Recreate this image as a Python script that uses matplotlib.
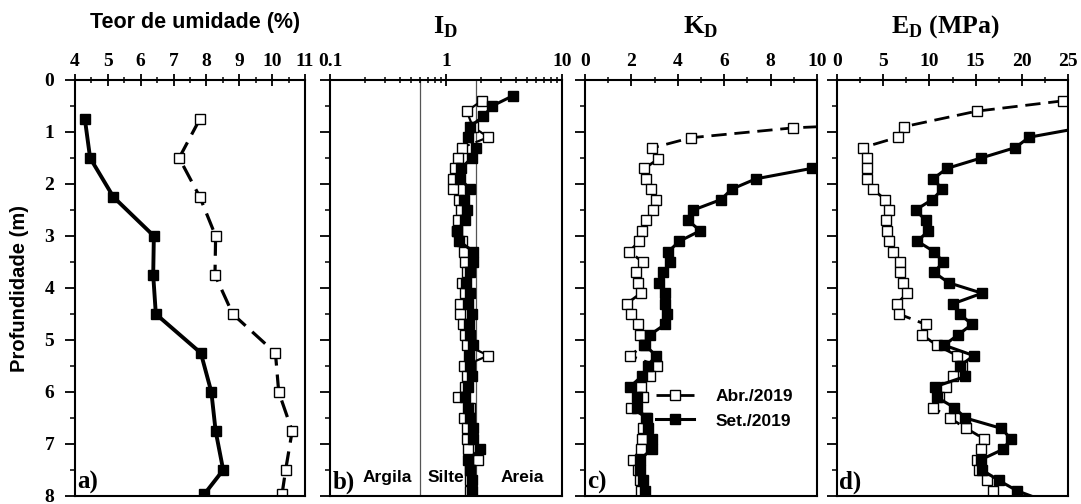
import matplotlib
matplotlib.use('Agg')
import matplotlib.pyplot as plt
from matplotlib.ticker import MultipleLocator, LogLocator, NullFormatter

plt.rcParams['font.family'] = 'Liberation Serif'
plt.rcParams['font.weight'] = 'bold'
plt.rcParams['mathtext.fontset'] = 'custom'
plt.rcParams['mathtext.bf'] = 'Liberation Serif:bold'
plt.rcParams['mathtext.rm'] = 'Liberation Serif:bold'

SANS = 'Liberation Sans'

# ── a) Teor de umidade (%) ───────────────────────────────────────────────────
w_depth = [0.75, 1.5, 2.25, 3.0, 3.75, 4.5, 5.25, 6.0, 6.75, 7.5, 7.97]
w_abr = [7.80, 7.17, 7.80, 8.28, 8.26, 8.80, 10.10, 10.20, 10.61, 10.41, 10.30]
w_set = [4.30, 4.46, 5.17, 6.40, 6.38, 6.46, 7.83, 8.15, 8.28, 8.51, 7.93]

# ── b) ID ────────────────────────────────────────────────────────────────────
id_depth_abr = [0.4, 0.6, 0.9, 1.1, 1.3, 1.5, 1.7, 1.9, 2.1, 2.3, 2.5, 2.7, 2.9,
                3.1, 3.3, 3.5, 3.7, 3.9, 4.1, 4.3, 4.5, 4.7, 4.9, 5.1, 5.3, 5.5,
                5.7, 5.9, 6.1, 6.3, 6.5, 6.7, 6.9, 7.1, 7.3, 7.5, 7.7, 7.9]
id_abr = [2.03, 1.51, 1.70, 2.32, 1.37, 1.28, 1.20, 1.16, 1.16, 1.30, 1.35, 1.28,
          1.24, 1.38, 1.42, 1.46, 1.51, 1.38, 1.45, 1.32, 1.32, 1.40, 1.46, 1.51,
          2.32, 1.42, 1.51, 1.45, 1.28, 1.62, 1.42, 1.51, 1.51, 1.55, 1.90, 1.60,
          1.62, 1.62]
id_depth_set = [0.3, 0.5, 0.7, 0.9, 1.1, 1.3, 1.5, 1.7, 1.9, 2.1, 2.3, 2.5, 2.7,
                2.9, 3.1, 3.3, 3.5, 3.7, 3.9, 4.1, 4.3, 4.5, 4.7, 4.9, 5.1, 5.3,
                5.5, 5.7, 5.9, 6.1, 6.3, 6.5, 6.7, 6.9, 7.1, 7.3, 7.5, 7.7, 7.9]
id_set = [3.80, 2.50, 2.10, 1.60, 1.55, 1.80, 1.66, 1.35, 1.32, 1.62, 1.42, 1.51,
          1.45, 1.25, 1.30, 1.72, 1.70, 1.60, 1.48, 1.62, 1.55, 1.68, 1.58, 1.62,
          1.70, 1.58, 1.62, 1.66, 1.55, 1.45, 1.55, 1.62, 1.70, 1.72, 1.96, 1.56,
          1.62, 1.66, 1.66]

# ── c) KD ────────────────────────────────────────────────────────────────────
kd_depth_abr = [0.72, 0.92, 1.11, 1.31, 1.52, 1.7, 1.9, 2.1, 2.3, 2.5, 2.7, 2.9,
                3.1, 3.3, 3.5, 3.7, 3.9, 4.1, 4.3, 4.5, 4.7, 4.9, 5.1, 5.3, 5.5,
                5.7, 5.9, 6.1, 6.3, 6.5, 6.7, 6.9, 7.1, 7.3, 7.5, 7.7, 7.9]
kd_abr = [19.0, 8.98, 4.57, 2.87, 3.16, 2.56, 2.63, 2.84, 3.06, 2.92, 2.63, 2.44,
          2.34, 1.91, 2.49, 2.20, 2.27, 2.41, 1.80, 1.98, 2.30, 2.37, 2.54, 1.94,
          3.12, 2.80, 2.41, 2.49, 1.98, 2.66, 2.50, 2.44, 2.41, 2.06, 2.30, 2.35,
          2.40]
kd_depth_set = [1.7, 1.9, 2.1, 2.3, 2.5, 2.7, 2.9, 3.1, 3.3, 3.5, 3.7, 3.9, 4.1,
                4.3, 4.5, 4.7, 4.9, 5.1, 5.3, 5.5, 5.7, 5.9, 6.1, 6.3, 6.5, 6.7,
                6.9, 7.1, 7.3, 7.5, 7.7, 7.9]
kd_set = [9.77, 7.37, 6.32, 5.86, 4.67, 4.45, 4.96, 4.07, 3.59, 3.66, 3.38, 3.19,
          3.45, 3.45, 3.52, 3.45, 2.80, 2.59, 3.06, 2.70, 2.44, 1.94, 2.23, 2.23,
          2.63, 2.73, 2.87, 2.87, 2.37, 2.37, 2.49, 2.59]

# ── d) ED (MPa) ──────────────────────────────────────────────────────────────
ed_depth_abr = [0.4, 0.6, 0.9, 1.1, 1.3, 1.5, 1.7, 1.9, 2.1, 2.3, 2.5, 2.7, 2.9,
                3.1, 3.3, 3.5, 3.7, 3.9, 4.1, 4.3, 4.5, 4.7, 4.9, 5.1, 5.3, 5.5,
                5.7, 5.9, 6.1, 6.3, 6.5, 6.7, 6.9, 7.1, 7.3, 7.5, 7.7, 7.9]
ed_abr = [24.5, 15.1, 7.2, 6.6, 2.8, 3.3, 3.2, 3.25, 3.9, 5.2, 5.6, 5.3, 5.4, 5.6,
          6.1, 6.8, 6.8, 7.1, 7.6, 6.5, 6.7, 9.6, 9.2, 10.8, 13.0, 13.5, 12.5,
          11.8, 11.0, 10.4, 12.2, 14.0, 15.9, 15.6, 15.1, 15.4, 16.2, 16.9]
ed_depth_set = [0.9, 1.1, 1.3, 1.5, 1.7, 1.9, 2.1, 2.3, 2.5, 2.7, 2.9, 3.1, 3.3,
                3.5, 3.7, 3.9, 4.1, 4.3, 4.5, 4.7, 4.9, 5.1, 5.3, 5.5, 5.7, 5.9,
                6.1, 6.3, 6.5, 6.7, 6.9, 7.1, 7.3, 7.5, 7.7, 7.9, 8.1]
ed_set = [27.0, 20.8, 19.3, 15.6, 11.9, 10.4, 11.4, 10.3, 8.5, 9.6, 9.9, 8.7, 10.5,
          11.5, 10.5, 12.1, 15.7, 12.6, 13.3, 14.6, 13.1, 11.6, 14.8, 13.3, 13.9,
          10.6, 10.8, 12.7, 13.9, 17.8, 18.8, 18.0, 15.6, 15.7, 17.5, 19.5, 22.5]

LABELS = ['Abr./2019', 'Set./2019']

# ── figure ───────────────────────────────────────────────────────────────────
W, H = 1081, 504
fig = plt.figure(figsize=(W / 100, H / 100), dpi=100)

def px_axes(left, right, top=80, bottom=496):
    return fig.add_axes([left / W, 1 - bottom / H, (right - left) / W, (bottom - top) / H])

ax_a = px_axes(75, 305)
ax_b = px_axes(330, 562)
ax_c = px_axes(585, 817)
ax_d = px_axes(837, 1068)


def style(ax, show_y):
    ax.set_ylim(8, 0)
    ax.xaxis.tick_top()
    for sp in ax.spines.values():
        sp.set_linewidth(1.5)
    ax.tick_params(axis='x', which='major', direction='inout', length=9, width=1.3,
                   labelsize=14, pad=3, top=True, bottom=False)
    ax.tick_params(axis='x', which='minor', direction='inout', length=5, width=1.1,
                   top=True, bottom=False)
    ax.tick_params(axis='y', which='major', direction='out', length=7, width=1.3,
                   labelsize=14, pad=8, labelleft=show_y, right=False)
    ax.tick_params(axis='y', which='minor', direction='out', length=3.5, width=1.1,
                   right=False)
    ax.yaxis.set_major_locator(MultipleLocator(1))
    ax.yaxis.set_minor_locator(MultipleLocator(0.5))


def draw(ax, d_abr, v_abr, d_set, v_set, lw_abr, lw_set, ms):
    ax.plot(v_abr, d_abr, color='black', ls=(0, (5.5, 2.8)), lw=lw_abr, marker='s',
            mfc='white', mec='black', mew=1.0, ms=ms, label=LABELS[0])
    ax.plot(v_set, d_set, color='black', ls='-', lw=lw_set, marker='s',
            mfc='black', mec='black', ms=ms, label=LABELS[1])


# a)
draw(ax_a, w_depth, w_abr, w_depth, w_set, 2.3, 2.8, 7)
style(ax_a, True)
ax_a.set_xlim(4, 11)
ax_a.xaxis.set_major_locator(MultipleLocator(1))
ax_a.xaxis.set_minor_locator(MultipleLocator(0.5))

# b)
draw(ax_b, id_depth_abr, id_abr, id_depth_set, id_set, 1.6, 2.2, 7)
ax_b.set_xscale('log')
ax_b.set_xlim(0.1, 10)
style(ax_b, False)
ax_b.set_xticks([0.1, 1, 10], ['0.1', '1', '10'])
ax_b.xaxis.set_minor_locator(LogLocator(base=10, subs=range(2, 10)))
ax_b.xaxis.set_minor_formatter(NullFormatter())
ax_b.axvline(0.6, color='#555555', lw=0.9, zorder=0)
ax_b.axvline(1.8, color='#555555', lw=0.9, zorder=0)
for txt, xv in [('Argila', 0.31), ('Silte', 0.99), ('Areia', 4.5)]:
    ax_b.text(xv, 7.65, txt, family=SANS, weight='bold', fontsize=12.5,
              ha='center', va='center')

# c)
draw(ax_c, kd_depth_abr, kd_abr, kd_depth_set, kd_set, 2.0, 2.2, 6.5)
style(ax_c, False)
ax_c.set_xlim(0, 10)
ax_c.xaxis.set_major_locator(MultipleLocator(2))
ax_c.xaxis.set_minor_locator(MultipleLocator(1))
ax_c.legend(loc='center left', bbox_to_anchor=(0.24, 0.21), frameon=False,
            handlelength=2.2, handletextpad=1.2, labelspacing=0.55, numpoints=1,
            prop={'family': SANS, 'weight': 'bold', 'size': 12.5})

# d)
draw(ax_d, ed_depth_abr, ed_abr, ed_depth_set, ed_set, 2.0, 2.2, 6.5)
style(ax_d, False)
ax_d.set_xlim(0, 25)
ax_d.xaxis.set_major_locator(MultipleLocator(5))
ax_d.xaxis.set_minor_locator(MultipleLocator(2.5))

for ax, lab in zip([ax_a, ax_b, ax_c, ax_d], ['a)', 'b)', 'c)', 'd)']):
    ax.text(0.01, 0.005, lab, transform=ax.transAxes, fontsize=18,
            ha='left', va='bottom')

# titles
fig.text(195 / W, 1 - 28 / H, 'Teor de umidade (%)', family=SANS, weight='bold',
         fontsize=15.5, ha='center', va='baseline')
fig.text(446 / W, 1 - 33 / H, r'$\mathbf{I}_\mathbf{D}$', fontsize=19,
         ha='center', va='baseline')
fig.text(701 / W, 1 - 33 / H, r'$\mathbf{K}_\mathbf{D}$', fontsize=19,
         ha='center', va='baseline')
fig.text(945 / W, 1 - 33 / H, r'$\mathbf{E}_\mathbf{D}$ (MPa)', fontsize=18.5,
         ha='center', va='baseline')
fig.text(20 / W, 1 - 288 / H, 'Profundidade (m)', family=SANS, weight='bold',
         fontsize=14.5, rotation=90, ha='center', va='center')

fig.savefig('out.png', dpi=100)
